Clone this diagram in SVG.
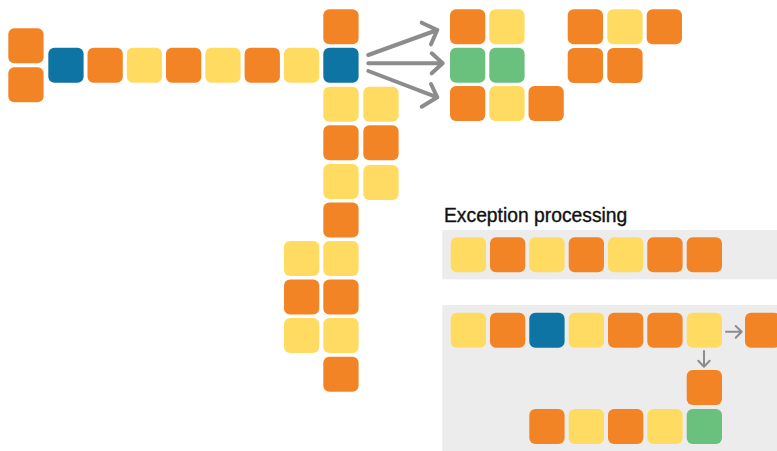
<svg xmlns="http://www.w3.org/2000/svg" width="777" height="451" viewBox="0 0 777 451">
<style>
.t{width:35.3px;height:35px}
.o{fill:#F38425}
.y{fill:#FFDC61}
.b{fill:#0D74A3}
.g{fill:#69C17D}
.panel{fill:#ECECEC}
.big{fill:none;stroke:#8C8C8C;stroke-width:4;stroke-linecap:round;stroke-linejoin:round}
.sm{fill:none;stroke:#8C8C8C;stroke-width:2;stroke-linecap:round;stroke-linejoin:round}
.lbl{font-family:"Liberation Sans",Arial,sans-serif;font-size:19.3px;fill:#111;stroke:#111;stroke-width:0.35}
</style>
<defs>
<rect id="tile" width="35.3" height="35" rx="6" ry="6"/>
</defs>
<rect class="panel" x="442.3" y="230" width="335" height="49.3"/>
<rect class="panel" x="442.3" y="305" width="335" height="146"/>
<text class="lbl" x="444" y="221.5">Exception processing</text>
<g id="connectors">
<path class="big" d="M368.3,55 L437.3,30 M421.7,22.7 L437.3,30 L431,44.3"/>
<path class="big" d="M368.3,63.3 L442.7,63.3 M431.7,53.3 L442.7,63.3 L431.7,73.3"/>
<path class="big" d="M368.3,71 L437.3,97.3 M431,84 L437.3,97.3 L421.7,106.7"/>
<path class="sm" d="M726,331.7 L741.7,331.7 M735.7,326 L741.7,331.7 L735.7,337.7"/>
<path class="sm" d="M704,351 L704,366.7 M698.3,360.7 L704,366.7 L709.7,360.7"/>
</g>
<g id="chain-left">
<g id="n1"><use href="#tile" class="o" x="8.3" y="28.3"/></g>
<g id="n2"><use href="#tile" class="o" x="8.3" y="67.3"/></g>
<g id="n3"><use href="#tile" class="b" x="48.3" y="47.7"/></g>
<g id="n4"><use href="#tile" class="o" x="87.5" y="47.7"/></g>
<g id="n5"><use href="#tile" class="y" x="126.8" y="47.7"/></g>
<g id="n6"><use href="#tile" class="o" x="166" y="47.7"/></g>
<g id="n7"><use href="#tile" class="y" x="205.3" y="47.7"/></g>
<g id="n8"><use href="#tile" class="o" x="244.6" y="47.7"/></g>
<g id="n9"><use href="#tile" class="y" x="283.9" y="47.7"/></g>
<g id="n10"><use href="#tile" class="b" x="323.3" y="47.7"/></g>
<g id="n11"><use href="#tile" class="o" x="323.3" y="9.3"/></g>
<g id="n12"><use href="#tile" class="y" x="323.3" y="86.7"/></g>
<g id="n13"><use href="#tile" class="y" x="363.3" y="86.7"/></g>
<g id="n14"><use href="#tile" class="o" x="323.3" y="125.3"/></g>
<g id="n15"><use href="#tile" class="o" x="363.3" y="125.3"/></g>
<g id="n16"><use href="#tile" class="y" x="323.3" y="164"/></g>
<g id="n17"><use href="#tile" class="y" x="363.3" y="165"/></g>
<g id="n18"><use href="#tile" class="o" x="323.3" y="202.5"/></g>
<g id="n19"><use href="#tile" class="y" x="323.3" y="241"/></g>
<g id="n20"><use href="#tile" class="y" x="284" y="241"/></g>
<g id="n21"><use href="#tile" class="o" x="323.3" y="279.5"/></g>
<g id="n22"><use href="#tile" class="o" x="284" y="279.5"/></g>
<g id="n23"><use href="#tile" class="y" x="323.3" y="318"/></g>
<g id="n24"><use href="#tile" class="y" x="284" y="318"/></g>
<g id="n25"><use href="#tile" class="o" x="323.3" y="356.7"/></g>
</g>
<g id="group-right">
<g id="r1"><use href="#tile" class="o" x="450" y="9.3"/></g>
<g id="r2"><use href="#tile" class="y" x="489.3" y="9.3"/></g>
<g id="r3"><use href="#tile" class="g" x="450" y="47.7"/></g>
<g id="r4"><use href="#tile" class="g" x="489.3" y="47.7"/></g>
<g id="r5"><use href="#tile" class="o" x="450" y="86"/></g>
<g id="r6"><use href="#tile" class="y" x="489.3" y="86"/></g>
<g id="r7"><use href="#tile" class="o" x="528.5" y="86"/></g>
<g id="r8"><use href="#tile" class="o" x="567.7" y="9.3"/></g>
<g id="r9"><use href="#tile" class="y" x="607.3" y="9.3"/></g>
<g id="r10"><use href="#tile" class="o" x="646.7" y="9.3"/></g>
<g id="r11"><use href="#tile" class="o" x="567.7" y="48"/></g>
<g id="r12"><use href="#tile" class="o" x="607.3" y="48"/></g>
</g>
<g id="exception-row">
<g id="e1"><use href="#tile" class="y" x="450.7" y="237.3"/></g>
<g id="e2"><use href="#tile" class="o" x="490" y="237.3"/></g>
<g id="e3"><use href="#tile" class="y" x="529.3" y="237.3"/></g>
<g id="e4"><use href="#tile" class="o" x="568.7" y="237.3"/></g>
<g id="e5"><use href="#tile" class="y" x="608" y="237.3"/></g>
<g id="e6"><use href="#tile" class="o" x="647.3" y="237.3"/></g>
<g id="e7"><use href="#tile" class="o" x="686.7" y="237.3"/></g>
</g>
<g id="exception-flow">
<g id="f1"><use href="#tile" class="y" x="450.7" y="312.7"/></g>
<g id="f2"><use href="#tile" class="o" x="490" y="312.7"/></g>
<g id="f3"><use href="#tile" class="b" x="529.3" y="312.7"/></g>
<g id="f4"><use href="#tile" class="y" x="568.7" y="312.7"/></g>
<g id="f5"><use href="#tile" class="o" x="608" y="312.7"/></g>
<g id="f6"><use href="#tile" class="o" x="647.3" y="312.7"/></g>
<g id="f7"><use href="#tile" class="y" x="686.7" y="312.7"/></g>
<g id="f8"><use href="#tile" class="o" x="745" y="312.7"/></g>
<g id="f9"><use href="#tile" class="o" x="686.7" y="370"/></g>
<g id="f10"><use href="#tile" class="o" x="529.3" y="409"/></g>
<g id="f11"><use href="#tile" class="y" x="568.7" y="409"/></g>
<g id="f12"><use href="#tile" class="o" x="608" y="409"/></g>
<g id="f13"><use href="#tile" class="y" x="647.3" y="409"/></g>
<g id="f14"><use href="#tile" class="g" x="686.7" y="409"/></g>
</g>
</svg>
